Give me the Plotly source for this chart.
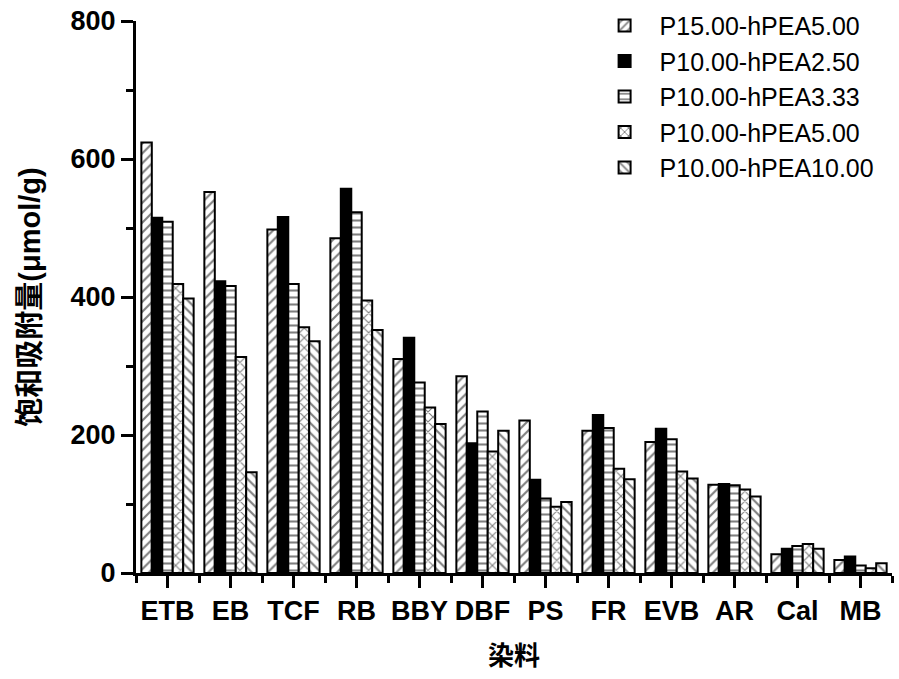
import plotly.graph_objects as go

categories = ["ETB", "EB", "TCF", "RB", "BBY", "DBF", "PS", "FR", "EVB", "AR", "Cal", "MB"]
series_names = ["P15.00-hPEA5.00", "P10.00-hPEA2.50", "P10.00-hPEA3.33",
                "P10.00-hPEA5.00", "P10.00-hPEA10.00"]
s1 = [624, 552, 498, 485, 310, 285, 221, 206, 190, 128, 27, 19]
s2 = [515, 423, 516, 557, 341, 188, 135, 229, 209, 129, 35, 24]
s3 = [509, 416, 419, 523, 276, 234, 108, 210, 194, 127, 39, 11]
s4 = [419, 313, 356, 395, 240, 176, 96, 151, 147, 121, 42, 7]
s5 = [398, 146, 336, 352, 216, 206, 103, 136, 137, 111, 35, 14]
series_values = [s1, s2, s3, s4, s5]
patterns = ["/", "", "-", "x", "\\"]
fills = ["white", "black", "white", "white", "white"]

xpos = list(range(len(categories)))

fig = go.Figure()
for name, vals, pat, fc in zip(series_names, series_values, patterns, fills):
    fig.add_trace(go.Bar(
        name=name, x=xpos, y=vals,
        marker=dict(
            color=fc,
            line=dict(color="black", width=2),
            pattern=dict(shape=pat, fgcolor="black", bgcolor=fc, size=7, solidity=0.3),
        ),
    ))

tick_font = dict(family="Liberation Sans, Arial", size=27, color="black", weight="bold")
xtitle_font = dict(family="Liberation Sans, Noto Sans CJK SC", size=26, color="black", weight="bold")
ytitle_font = dict(family="Liberation Sans, Noto Sans CJK SC", size=29, color="black", weight="bold")

fig.update_layout(
    width=899, height=679,
    barmode="group", bargap=0.17, bargroupgap=0,
    plot_bgcolor="white", paper_bgcolor="white",
    margin=dict(l=136, r=7, t=21, b=106, autoexpand=False),
    showlegend=True,
    legend=dict(
        x=0.6, y=1.033, xanchor="left", yanchor="top",
        font=dict(family="Liberation Sans, Arial", size=25, color="black"),
        bgcolor="rgba(0,0,0,0)", itemwidth=60, tracegroupgap=0,
    ),
    xaxis=dict(
        range=[-0.5, 11.5], tickvals=xpos, ticktext=categories,
        showline=True, linecolor="black", linewidth=3,
        ticks="outside", ticklen=12, tickwidth=3, tickcolor="black",
        minor=dict(tick0=0.5, dtick=1, ticks="outside", ticklen=7, tickwidth=2.5, tickcolor="black"),
        showgrid=False, zeroline=False, tickfont=tick_font, ticklabeloverflow="allow",
        title=dict(text="染料", font=xtitle_font, standoff=22),
    ),
    yaxis=dict(
        range=[0, 800], tickvals=[0, 200, 400, 600, 800],
        showline=True, linecolor="black", linewidth=3,
        ticks="outside", ticklen=12, tickwidth=3, tickcolor="black",
        minor=dict(dtick=100, ticks="outside", ticklen=7, tickwidth=2.5, tickcolor="black"),
        showgrid=False, zeroline=False, tickfont=tick_font, ticklabeloverflow="allow",
        title=dict(text="饱和吸附量(μmol/g)", font=ytitle_font, standoff=22),
    ),
)

# remove the browser's default 8px body margin so the figure fills the window exactly
fig.write_html("out.html", config={"displayModeBar": False},
               post_script="document.body.style.margin='0';")
